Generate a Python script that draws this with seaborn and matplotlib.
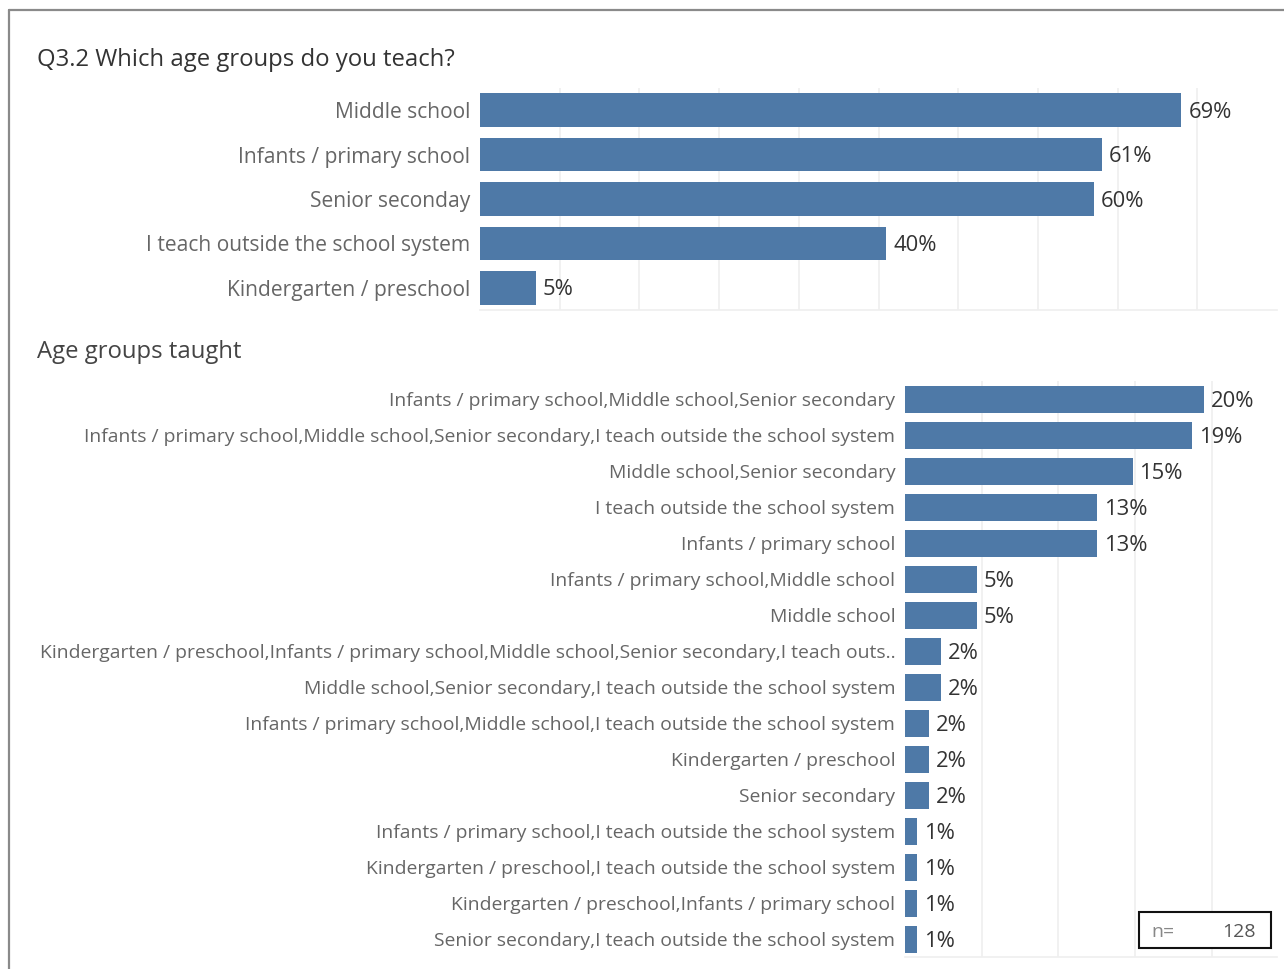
import numpy as np
import pandas as pd
import matplotlib
matplotlib.use("Agg")
import matplotlib.pyplot as plt
from matplotlib.patches import Rectangle
import seaborn as sns

# Respondents
n_total = 128

# Q3.2 – each age group (multi-select), respondent counts
group_labels = [
    "Middle school",
    "Infants / primary school",
    "Senior seconday",
    "I teach outside the school system",
    "Kindergarten / preschool",
]
group_counts = [88, 78, 77, 51, 7]

# Combinations of age groups taught, respondent counts
combo_labels = [
    "Infants / primary school,Middle school,Senior secondary",
    "Infants / primary school,Middle school,Senior secondary,I teach outside the school system",
    "Middle school,Senior secondary",
    "I teach outside the school system",
    "Infants / primary school",
    "Infants / primary school,Middle school",
    "Middle school",
    "Kindergarten / preschool,Infants / primary school,Middle school,Senior secondary,I teach outs..",
    "Middle school,Senior secondary,I teach outside the school system",
    "Infants / primary school,Middle school,I teach outside the school system",
    "Kindergarten / preschool",
    "Senior secondary",
    "Infants / primary school,I teach outside the school system",
    "Kindergarten / preschool,I teach outside the school system",
    "Kindergarten / preschool,Infants / primary school",
    "Senior secondary,I teach outside the school system",
]
combo_counts = [25, 24, 19, 16, 16, 6, 6, 3, 3, 2, 2, 2, 1, 1, 1, 1]

BAR = "#4e79a7"
LABEL_GREY = "#666666"
VALUE_DARK = "#333333"
GRID = "#efefef"

sns.set_theme(style="white")
plt.rcParams["font.family"] = ["Open Sans", "DejaVu Sans"]

W, H = 1284, 969
fig = plt.figure(figsize=(W / 100, H / 100), dpi=100)
fig.patch.set_facecolor("white")


def px_axes(left, top, right, bottom):
    return fig.add_axes([left / W, 1 - bottom / H, (right - left) / W, (bottom - top) / H])


def style_axes(ax, grid_vals, xmax, label_size):
    ax.set_xlim(0, xmax)
    ax.set_xlabel("")
    ax.set_ylabel("")
    ax.set_xticks([])
    for g in grid_vals:
        ax.axvline(g, color=GRID, lw=1.2, zorder=0)
    for s in ["top", "right", "left"]:
        ax.spines[s].set_visible(False)
    ax.spines["bottom"].set_color(GRID)
    ax.spines["bottom"].set_linewidth(1.2)
    ax.tick_params(axis="y", length=0, pad=7, labelsize=label_size, labelcolor=LABEL_GREY)


def pct_text(p):
    # round half up, as the dashboard does
    return f"{int(np.floor(p + 0.5))}%"


def add_values(ax, pcts, fontsize):
    for i, p in enumerate(pcts):
        ax.annotate(pct_text(p), xy=(p, i), xytext=(5, -1.5), textcoords="offset points",
                    ha="left", va="center", fontsize=fontsize, color=VALUE_DARK)


# Top panel: share of respondents per age group
top_df = pd.DataFrame({"group": group_labels,
                       "pct": np.array(group_counts) / n_total * 100})
ax1 = px_axes(480, 88, 1277, 310)
sns.barplot(data=top_df, x="pct", y="group", color=BAR, width=0.76,
            orient="h", ax=ax1, saturation=1, edgecolor="none", zorder=2)
step1 = 10 / n_total * 100
style_axes(ax1, np.arange(1, 10) * step1, 100 / n_total * 100, 15.1)
add_values(ax1, top_df["pct"], 15.8)

# Bottom panel: combinations of age groups
bot_df = pd.DataFrame({"combo": combo_labels,
                       "pct": np.array(combo_counts) / n_total * 100})
ax2 = px_axes(905, 381, 1277, 957)
sns.barplot(data=bot_df, x="pct", y="combo", color=BAR, width=0.75,
            orient="h", ax=ax2, saturation=1, edgecolor="none", zorder=2)
style_axes(ax2, [5, 10, 15, 20], (1277 - 905) / 15.33, 13.95)
add_values(ax2, bot_df["pct"], 15.8)

# Headings
fig.text(37 / W, 1 - 60 / H, "Q3.2 Which age groups do you teach?", fontsize=17.2,
         color="#333333", ha="left", va="center")
fig.text(37 / W, 1 - 352 / H, "Age groups taught", fontsize=17.2,
         color="#444444", ha="left", va="center")

# Dashboard frame
fig.add_artist(plt.Line2D([9 / W, 1], [1 - 10 / H, 1 - 10 / H], color="#8a8a8a", lw=1.6))
fig.add_artist(plt.Line2D([9 / W, 9 / W], [0, 1 - 10 / H], color="#8a8a8a", lw=1.6))

# Sample size box
fig.add_artist(Rectangle((1139 / W, 1 - 948 / H), 132 / W, 36 / H, transform=fig.transFigure,
                         facecolor="white", edgecolor="#111111", lw=1.5, zorder=5))
fig.text(1151 / W, 1 - 932 / H, "n=", fontsize=14, color="#888888", ha="left", va="center", zorder=6)
fig.text(1256 / W, 1 - 932 / H, f"{n_total}", fontsize=14, color="#555555", ha="right", va="center", zorder=6)

fig.savefig("out.png", dpi=100, facecolor="white")
